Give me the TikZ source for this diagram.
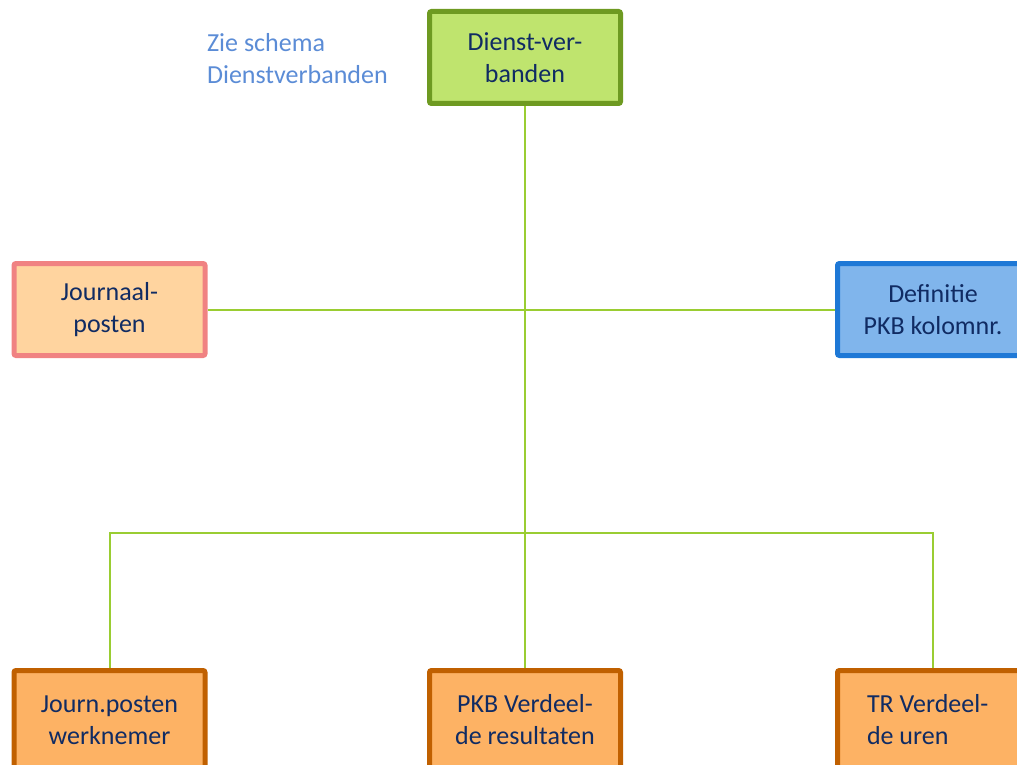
\documentclass[tikz,border=0pt]{standalone}
\usepackage{fontspec}
\setmainfont{Carlito}
\usepackage{xcolor}
\usetikzlibrary{positioning}

\definecolor{navytext}{HTML}{102B63}
\definecolor{notetext}{HTML}{5B8CD6}
\definecolor{linkgreen}{HTML}{9ACD32}
\definecolor{greenfill}{HTML}{BFE46E}
\definecolor{greenline}{HTML}{6E9A21}
\definecolor{peachfill}{HTML}{FFD49F}
\definecolor{pinkline}{HTML}{F08282}
\definecolor{bluefill}{HTML}{80B5EC}
\definecolor{blueline}{HTML}{1E78D6}
\definecolor{orangefill}{HTML}{FDB264}
\definecolor{orangeline}{HTML}{C06000}

\begin{document}
\begin{tikzpicture}[
    x=0.5pt, y=-0.5pt,
    every node/.style={font=\fontsize{13pt}{16pt}\selectfont, text=navytext},
    box/.style={draw, rectangle, rounded corners=1pt, line width=2.5pt, align=center,
        minimum width=95.5pt, minimum height=46pt, inner sep=2pt},
    unitbox/.style={box, fill=greenfill, draw=greenline},
    bookbox/.style={box, fill=peachfill, draw=pinkline},
    defbox/.style={box, fill=bluefill, draw=blueline},
    resbox/.style={box, fill=orangefill, draw=orangeline, minimum height=49.5pt},
    link/.style={draw=linkgreen, line width=1pt}
]
    \useasboundingbox (0,0) rectangle (1017,765);

    % Top
    \node[unitbox] (dienst) at (525,57.5) {Dienst-ver-\\banden};
    \node[anchor=west, align=left, text=notetext] (note) at (200,59) {Zie schema\\Dienstverbanden};

    % Middle row
    \node[bookbox] (journaal) at (109.5,309.5) {Journaal-\\posten};
    \node[defbox] (definitie) at (933,309.5) {Definitie\\PKB kolomnr.};

    % Bottom row
    \node[resbox] (jw) at (109.5,720) {Journ.posten\\werknemer};
    \node[resbox] (pkb) at (525,720) {PKB Verdeel-\\de resultaten};
    \node[resbox, text width=66pt, align=flush left] (tr) at (933,720) {TR Verdeel-\\de uren};

    \coordinate (hub) at (525,533);

    % Lines
    \draw[link] (dienst) -- (hub);
    \draw[link] (journaal) -- (definitie);
    \draw[link] (hub) -| (jw);
    \draw[link] (hub) -- (pkb);
    \draw[link] (hub) -| (tr);
\end{tikzpicture}
\end{document}
